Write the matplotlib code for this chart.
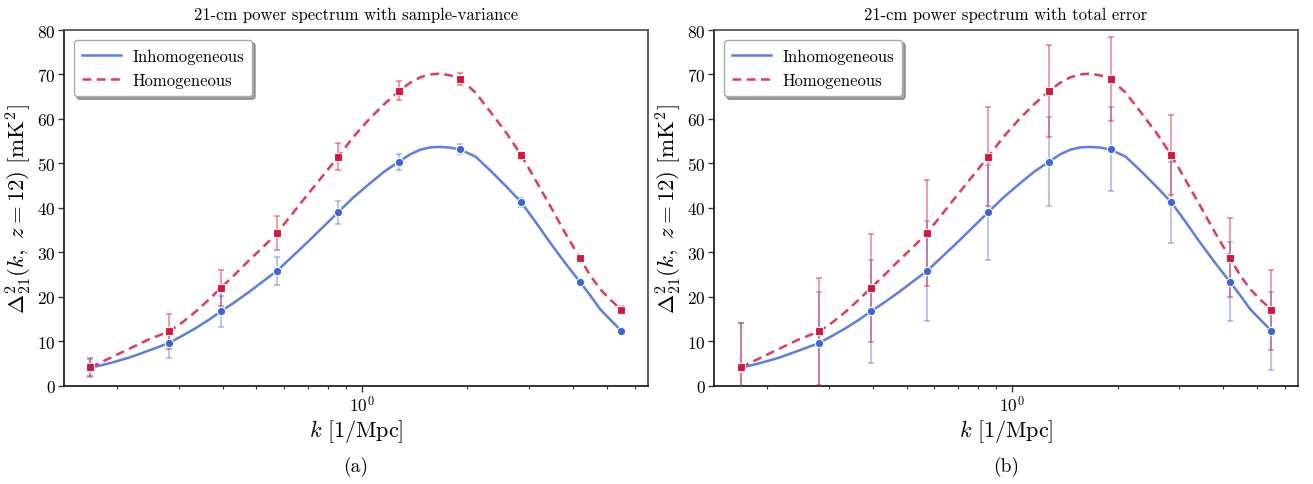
import matplotlib
matplotlib.use("Agg")
import matplotlib.pyplot as plt

# Computer Modern look without LaTeX
plt.rcParams['font.family'] = ['cmr10', 'DejaVu Serif']
plt.rcParams['mathtext.fontset'] = 'cm'
plt.rcParams['axes.formatter.use_mathtext'] = True
plt.rcParams['axes.unicode_minus'] = False

# k bins and measured power spectrum points
k_bins = [0.168, 0.282, 0.396, 0.572, 0.855, 1.277, 1.91, 2.85, 4.18, 5.5]
inhom_ps = [4.0, 9.6, 16.7, 25.8, 39.0, 50.4, 53.2, 41.2, 23.4, 12.3]
hom_ps = [4.1, 12.2, 22.0, 34.3, 51.5, 66.3, 69.0, 51.8, 28.8, 17.1]

# sample-variance errors (panel a)
inhom_err_sv = [2.0, 3.3, 3.5, 3.2, 2.6, 1.8, 1.2, 0.95, 0.5, 0.4]
hom_err_sv = [2.0, 3.9, 4.1, 3.8, 3.0, 2.15, 1.3, 0.75, 0.6, 0.7]

# total errors (panel b)
inhom_err_tot = [10.0, 11.5, 11.6, 11.3, 10.7, 10.0, 9.4, 9.2, 8.8, 8.8]
hom_err_tot = [10.0, 12.0, 12.1, 11.9, 11.1, 10.3, 9.4, 9.0, 8.9, 9.0]

# smooth model curves
k_curve = [0.168, 0.19, 0.217, 0.245, 0.282, 0.307, 0.335, 0.364, 0.396, 0.434,
           0.475, 0.521, 0.572, 0.632, 0.70, 0.775, 0.855, 0.944, 1.05, 1.16,
           1.277, 1.37, 1.47, 1.567, 1.67, 1.786, 1.91, 2.11, 2.33, 2.58,
           2.85, 3.13, 3.44, 3.79, 4.18, 4.47, 4.78, 5.13, 5.5]
inhom_curve = [4.0, 5.0, 6.3, 7.8, 9.6, 11.2, 12.9, 14.7, 16.7, 18.8,
               21.0, 23.4, 25.8, 29.0, 32.3, 35.7, 39.0, 42.3, 45.4, 48.2,
               50.4, 52.0, 53.1, 53.6, 53.7, 53.55, 53.1, 51.5, 48.3, 44.8,
               41.2, 36.8, 32.2, 27.7, 23.4, 20.4, 17.2, 14.7, 12.3]
hom_curve = [4.1, 6.1, 8.3, 10.3, 12.2, 14.2, 16.6, 19.2, 22.0, 25.0,
             28.1, 31.1, 34.3, 38.6, 43.0, 47.3, 51.5, 55.9, 60.0, 63.4,
             66.3, 68.1, 69.4, 70.0, 70.2, 69.8, 69.0, 65.9, 61.5, 56.9,
             51.8, 46.2, 40.5, 34.5, 28.8, 24.9, 21.7, 19.2, 17.1]

titles = ['21-cm power spectrum with sample-variance', '21-cm power spectrum with total error']
panel_tags = ['(a)', '(b)']

blue_line = '#5b7fe3'
blue_mark = '#3c64dc'
red_line = '#e03a5c'
red_mark = '#dc143c'


def draw_panel(ax, inhom_err, hom_err, title):
    ax.plot(k_curve, inhom_curve, color=blue_line, lw=1.8, label='Inhomogeneous', zorder=2)
    ax.plot(k_curve, hom_curve, color=red_line, lw=1.8, ls=(0, (3.5, 2.2)), label='Homogeneous', zorder=2)

    ax.errorbar(k_bins, inhom_ps, yerr=inhom_err, fmt='none', ecolor=blue_mark,
                alpha=0.4, elinewidth=1.3, capsize=2.5, capthick=1.3, zorder=3)
    ax.errorbar(k_bins, hom_ps, yerr=hom_err, fmt='none', ecolor=red_mark,
                alpha=0.45, elinewidth=1.3, capsize=2.5, capthick=1.3, zorder=3)
    ax.plot(k_bins, inhom_ps, 'o', color=blue_mark, ms=6, mec='white', mew=0.8, zorder=4)
    ax.plot(k_bins, hom_ps, 's', color=red_mark, ms=6, mec='white', mew=0.8, zorder=4)

    ax.set_xscale('log')
    ax.set_ylim(0, 80)
    ax.set_yticks(range(0, 81, 10))
    ax.set_title(title, fontsize=12, pad=8)
    ax.set_xlabel(r'$k\ [1/\mathrm{Mpc}]$', fontsize=16, labelpad=2)
    ax.set_ylabel(r'$\Delta^2_{21}(k,\ z=12)\ [\mathrm{mK}^2]$', fontsize=16.5, labelpad=2)
    ax.tick_params(axis='both', which='major', labelsize=12.5, direction='out', length=4,
                   width=1.0, color='#333333', pad=2)
    ax.tick_params(axis='x', which='minor', direction='out', length=2.5, width=0.8, color='#333333')
    for side in ['left', 'bottom']:
        ax.spines[side].set_color('#111111')
        ax.spines[side].set_linewidth(1.2)
    for side in ['top', 'right']:
        ax.spines[side].set_color('#555555')
        ax.spines[side].set_linewidth(1.3)

    leg = ax.legend(loc='upper left', fontsize=12, fancybox=True, shadow=True,
                    framealpha=1.0, handlelength=2.3, handletextpad=0.7, borderpad=0.5,
                    labelspacing=0.55, bbox_to_anchor=(0.0, 1.0), borderaxespad=0.6)
    leg.get_frame().set_edgecolor('#aaaaaa')


fig = plt.figure(figsize=(13.13, 4.85), dpi=100)
ax_a = fig.add_axes([0.0487, 0.203, 0.4448, 0.733])
ax_b = fig.add_axes([0.5438, 0.203, 0.4448, 0.733])

draw_panel(ax_a, inhom_err_sv, hom_err_sv, titles[0])
draw_panel(ax_b, inhom_err_tot, hom_err_tot, titles[1])

for ax, tag in zip([ax_a, ax_b], panel_tags):
    pos = ax.get_position()
    fig.text(pos.x0 + pos.width / 2, 0.037, tag, ha='center', va='center', fontsize=14)

fig.savefig('out.png', dpi=100)
